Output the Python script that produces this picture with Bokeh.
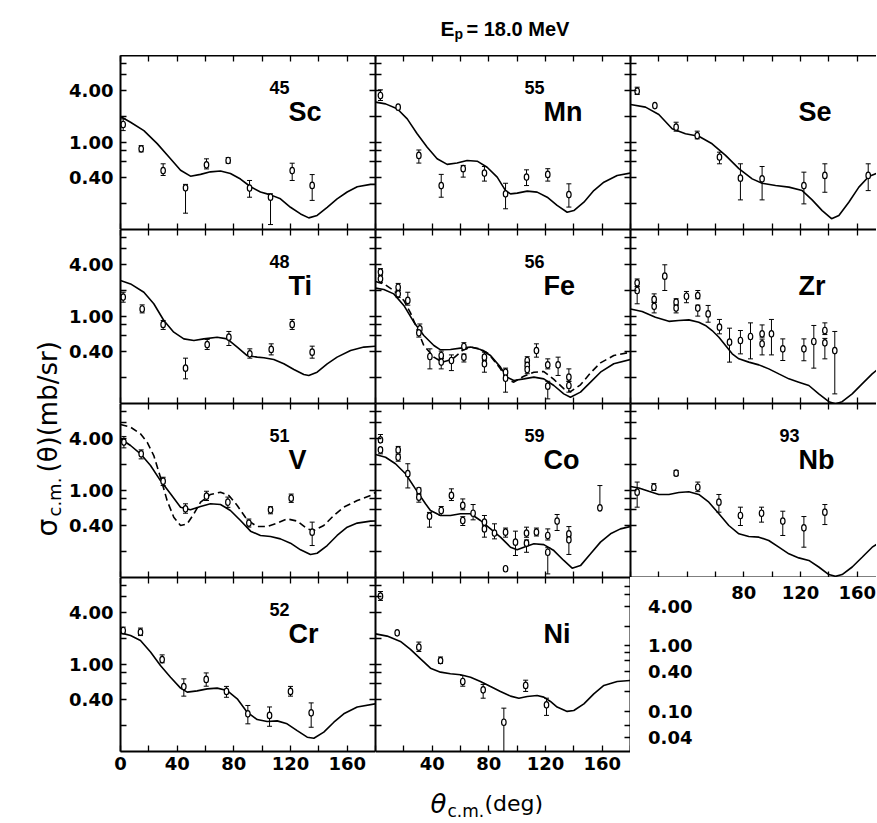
import math
from bokeh.plotting import figure
from bokeh.models import Range1d, LogAxis, LinearAxis, FixedTicker, NumeralTickFormatter, LogScale
from bokeh.layouts import column, row
from bokeh.core.properties import value
from bokeh.embed import file_html
from bokeh.resources import INLINE

# ---------------- data ----------------
# theta_cm in degrees, sigma in mb/sr
sc_cx = [0, 7.1, 16.5, 25.9, 35.3, 42.4, 49.4, 56.5, 63.5, 70.6, 77.6, 84.7, 91.8, 98.8, 105.9, 112.9, 120, 127.1, 132.9, 138.8, 145.9, 152.9, 160, 167.1, 176.5, 180]
sc_cy = [1.99, 1.71, 1.37, 0.97, 0.65, 0.48, 0.41, 0.43, 0.46, 0.47, 0.44, 0.38, 0.31, 0.27, 0.25, 0.225, 0.18, 0.151, 0.136, 0.145, 0.18, 0.225, 0.27, 0.31, 0.33, 0.33]
sc_x = [1.9, 14.6, 30.1, 45.9, 60.7, 76.0, 91.1, 105.9, 121.2, 135.3]
sc_y = [1.61, 0.845, 0.476, 0.301, 0.554, 0.621, 0.299, 0.235, 0.476, 0.321]
sc_lo = [1.37, 0.78, 0.418, 0.154, 0.497, 0.58, 0.235, 0.114, 0.366, 0.216]
sc_hi = [1.87, 0.92, 0.569, 0.33, 0.649, 0.67, 0.366, 0.257, 0.578, 0.428]

mn_cx = [0, 7.1, 15.3, 22.4, 29.4, 36.5, 43.5, 50.6, 57.6, 64.7, 71.8, 78.8, 85.9, 91.8, 95.3, 100, 107.1, 114.1, 121.2, 128.2, 135.3, 140, 147.1, 154.1, 161.2, 170.6, 180]
mn_cy = [2.91, 2.78, 2.44, 1.87, 1.26, 0.88, 0.65, 0.56, 0.58, 0.62, 0.61, 0.52, 0.40, 0.28, 0.257, 0.262, 0.276, 0.269, 0.235, 0.189, 0.158, 0.165, 0.206, 0.28, 0.35, 0.418, 0.445]
mn_x = [3.5, 16.0, 30.6, 46.4, 61.9, 76.9, 91.8, 106.6, 121.6, 136.5]
mn_y = [3.47, 2.55, 0.71, 0.32, 0.50, 0.445, 0.257, 0.40, 0.43, 0.252]
mn_lo = [3.04, None, 0.58, 0.235, 0.40, 0.36, 0.173, 0.32, 0.36, 0.181]
mn_hi = [4.03, None, 0.82, 0.43, 0.545, 0.53, 0.34, 0.485, 0.50, 0.335]

se_cx = [0, 10.6, 20, 29.4, 38.8, 48.2, 57.6, 67.1, 76.5, 85.9, 92.9, 102.4, 111.8, 121.2, 128.2, 135.3, 141.9, 147.1, 154.1, 161.2, 168.2, 174.4, 180]
se_cy = [2.74, 2.55, 2.10, 1.44, 1.26, 1.18, 0.966, 0.71, 0.50, 0.382, 0.34, 0.32, 0.307, 0.28, 0.219, 0.165, 0.133, 0.145, 0.206, 0.307, 0.406, 0.445, 0.47]
se_x = [4.7, 17.2, 32.2, 47.1, 62.8, 77.6, 92.9, 122.4, 137.2, 167.8]
se_y = [3.89, 2.66, 1.50, 1.20, 0.68, 0.389, 0.382, 0.32, 0.418, 0.418]
se_lo = [3.56, None, 1.35, 1.10, 0.569, 0.219, 0.219, 0.197, 0.268, 0.28]
se_hi = [4.32, None, 1.71, 1.35, 0.774, 0.569, 0.53, 0.456, 0.569, 0.569]

ti_cx = [0, 7.1, 16.5, 23.5, 30.6, 37.6, 44.7, 51.8, 58.8, 68.2, 75.3, 82.4, 89.4, 96.5, 101.2, 108.2, 115.3, 122.4, 129.4, 132.9, 138.8, 145.9, 152.9, 162.4, 171.8, 180]
ti_cy = [2.59, 2.37, 1.90, 1.40, 0.90, 0.66, 0.553, 0.53, 0.553, 0.578, 0.553, 0.445, 0.356, 0.341, 0.335, 0.32, 0.286, 0.246, 0.215, 0.21, 0.229, 0.286, 0.341, 0.406, 0.445, 0.456]
ti_x = [1.9, 15.3, 30.1, 45.9, 61.2, 76.5, 91.3, 106.4, 121.2, 135.3]
ti_y = [1.67, 1.22, 0.81, 0.255, 0.476, 0.578, 0.372, 0.418, 0.81, 0.389]
ti_lo = [1.46, 1.10, 0.71, 0.192, 0.418, 0.464, 0.332, 0.362, 0.71, 0.332]
ti_hi = [1.90, 1.36, 0.90, 0.332, 0.545, 0.673, 0.425, 0.485, 0.925, 0.456]

fe_cx = [0, 5.9, 12.9, 20, 27.1, 34.1, 41.2, 45.9, 52.9, 60, 67.1, 74.1, 81.2, 88.2, 92.9, 97.6, 104.7, 111.8, 118.8, 125.9, 132.9, 137.6, 144.7, 151.8, 158.8, 168.2, 180]
fe_cy = [2.12, 2.04, 1.82, 1.34, 0.86, 0.605, 0.464, 0.414, 0.418, 0.433, 0.445, 0.418, 0.356, 0.262, 0.201, 0.184, 0.192, 0.201, 0.192, 0.161, 0.129, 0.118, 0.135, 0.176, 0.229, 0.286, 0.321]
fe_dx = [0, 5.9, 12.9, 20, 24.7, 29.4, 34.1, 41.2, 47.1, 54.1, 61.2, 67.1, 74.1, 80, 88.2, 92.9, 97.6, 104.7, 111.8, 118.8, 125.9, 132.9, 137.6, 144.7, 151.8, 158.8, 168.2, 180]
fe_dy = [2.52, 2.37, 1.99, 1.53, 1.10, 0.72, 0.464, 0.341, 0.299, 0.321, 0.406, 0.445, 0.425, 0.372, 0.25, 0.189, 0.176, 0.206, 0.229, 0.233, 0.189, 0.148, 0.137, 0.164, 0.225, 0.293, 0.356, 0.389]
fe_x = [3.5, 3.5, 16.0, 16.0, 22.8, 31.3, 30.6, 38.4, 46.4, 46.4, 53.6, 62.4, 62.4, 76.9, 76.9, 91.8, 91.8, 107.1, 107.1, 107.1, 113.6, 121.6, 121.6, 128.9, 136.5, 136.5]
fe_y = [3.24, 2.71, 2.17, 1.82, 1.53, 0.72, 0.65, 0.347, 0.356, 0.299, 0.312, 0.452, 0.341, 0.341, 0.286, 0.229, 0.195, 0.312, 0.274, 0.246, 0.406, 0.278, 0.158, 0.278, 0.201, 0.161]
fe_lo = [3.0, 2.45, 2.0, 1.65, 1.35, 0.66, 0.58, 0.25, 0.33, 0.25, 0.239, 0.42, 0.30, 0.31, 0.229, 0.21, 0.135, 0.29, 0.25, 0.22, 0.341, 0.25, 0.113, 0.21, 0.18, 0.135]
fe_hi = [3.55, 2.95, 2.4, 2.0, 1.9, 0.82, 0.70, 0.425, 0.40, 0.33, 0.362, 0.50, 0.37, 0.389, 0.31, 0.255, 0.21, 0.345, 0.30, 0.27, 0.485, 0.326, 0.18, 0.341, 0.25, 0.18]

zr_cx = [0, 8.2, 17.6, 27.1, 34.1, 41.2, 48.2, 52.9, 57.6, 62.4, 67.1, 71.8, 76.5, 83.5, 90.6, 97.6, 104.7, 111.8, 118.8, 125.9, 132.9, 140, 144.7, 149.4, 156.5, 163.5, 170.6, 174.4, 180]
zr_cy = [1.22, 1.14, 0.98, 0.88, 0.90, 0.915, 0.86, 0.79, 0.69, 0.578, 0.464, 0.372, 0.326, 0.299, 0.278, 0.25, 0.219, 0.192, 0.176, 0.161, 0.129, 0.105, 0.099, 0.105, 0.129, 0.168, 0.219, 0.246, 0.29]
zr_x = [4.7, 4.7, 24.2, 16.7, 16.7, 32.2, 32.2, 39.5, 47.5, 47.5, 54.8, 62.8, 69.9, 77.6, 84.7, 92.9, 92.9, 99.5, 107.5, 122.4, 129.4, 137.2, 137.2, 144.2]
zr_y = [2.44, 1.99, 2.91, 1.57, 1.31, 1.46, 1.25, 1.71, 1.74, 1.25, 1.07, 0.753, 0.507, 0.53, 0.589, 0.632, 0.485, 0.632, 0.425, 0.425, 0.516, 0.69, 0.498, 0.406]
zr_lo = [2.2, 1.40, 1.99, 1.45, 1.10, 1.35, 1.10, 1.44, 1.6, 1.01, 0.86, 0.632, 0.299, 0.372, 0.326, 0.58, 0.362, 0.362, 0.312, 0.31, 0.255, 0.62, 0.326, 0.129]
zr_hi = [2.7, 2.2, 3.93, 1.82, 1.45, 1.6, 1.35, 1.94, 1.99, 1.35, 1.34, 0.925, 0.734, 0.69, 0.845, 0.80, 0.55, 0.925, 0.553, 0.553, 0.789, 0.845, 0.56, 0.673]

v_cx = [0, 7.1, 14.1, 21.2, 28.2, 35.3, 42.4, 49.4, 56.5, 63.5, 70.6, 77.6, 84.7, 91.8, 98.8, 105.9, 112.9, 120, 127.1, 134.1, 138.8, 145.9, 152.9, 160, 167.1, 176.5, 180]
v_cy = [3.93, 3.29, 2.64, 1.94, 1.30, 0.916, 0.643, 0.60, 0.655, 0.703, 0.69, 0.589, 0.452, 0.341, 0.304, 0.296, 0.278, 0.248, 0.208, 0.184, 0.19, 0.233, 0.304, 0.379, 0.422, 0.445, 0.447]
v_dx = [0, 7.1, 14.1, 18.8, 23.5, 28.2, 32.9, 37.6, 42.4, 47.1, 51.8, 56.5, 63.5, 70.6, 76.5, 82.4, 89.4, 96.5, 103.5, 110.6, 117.6, 124.7, 131.8, 136.5, 143.5, 150.6, 157.6, 167.1, 176.5, 180]
v_dy = [5.74, 5.35, 4.48, 3.59, 2.52, 1.42, 0.767, 0.493, 0.396, 0.414, 0.54, 0.734, 0.90, 0.957, 0.877, 0.673, 0.46, 0.385, 0.385, 0.422, 0.472, 0.445, 0.362, 0.347, 0.396, 0.517, 0.643, 0.767, 0.877, 0.95]
v_x = [2.4, 14.6, 30.1, 45.9, 60.7, 75.8, 90.6, 105.9, 120.5, 135.3]
v_y = [3.60, 2.64, 1.28, 0.615, 0.861, 0.734, 0.422, 0.60, 0.817, 0.332]
v_lo = [3.09, 2.31, 1.14, 0.548, 0.767, 0.64, 0.38, 0.54, 0.73, 0.233]
v_hi = [4.18, 2.93, 1.42, 0.703, 0.98, 0.84, 0.47, 0.65, 0.91, 0.433]

co_cx = [0, 7.1, 14.1, 21.2, 28.2, 35.3, 38.8, 45.9, 52.9, 60, 67.1, 74.1, 81.2, 88.2, 95.3, 100, 104.7, 111.8, 118.8, 125.9, 132.9, 138.8, 144.7, 151.8, 158.8, 165.9, 172.9, 180]
co_cy = [2.59, 2.41, 2.03, 1.56, 1.045, 0.703, 0.589, 0.516, 0.516, 0.54, 0.54, 0.452, 0.362, 0.291, 0.223, 0.208, 0.223, 0.244, 0.239, 0.204, 0.157, 0.128, 0.137, 0.187, 0.255, 0.318, 0.362, 0.385]
co_x = [3.5, 3.5, 16.0, 16.0, 22.8, 30.6, 30.6, 38.1, 46.4, 53.6, 61.6, 61.6, 68.9, 76.9, 76.9, 84.0, 91.8, 91.8, 98.8, 106.6, 106.6, 113.6, 121.6, 121.6, 128.2, 136.5, 136.5, 158.4]
co_y = [3.82, 2.93, 2.93, 2.41, 1.56, 1.0, 0.838, 0.507, 0.589, 0.877, 0.673, 0.452, 0.548, 0.433, 0.362, 0.324, 0.332, 0.126, 0.255, 0.324, 0.248, 0.332, 0.304, 0.195, 0.445, 0.318, 0.271, 0.632]
co_lo = [3.59, 2.64, 2.7, 2.17, 1.07, 0.92, 0.734, 0.379, 0.516, 0.767, 0.6, 0.396, 0.46, 0.39, 0.291, 0.278, 0.291, None, 0.179, 0.29, 0.195, 0.30, 0.27, 0.11, 0.347, 0.29, 0.184, 0.632]
co_hi = [4.40, 3.1, 3.21, 2.6, 2.03, 1.07, 0.9, 0.56, 0.655, 1.045, 0.80, 0.50, 0.69, 0.516, 0.40, 0.414, 0.37, None, 0.341, 0.379, 0.27, 0.37, 0.362, 0.22, 0.53, 0.385, 0.30, 1.14]

nb_cx = [0, 5.9, 12.9, 20, 27.1, 34.1, 41.2, 48.2, 55.3, 62.4, 69.4, 76.5, 83.5, 90.6, 97.6, 104.7, 111.8, 118.8, 125.9, 132.9, 140, 144.7, 149.4, 156.5, 163.5, 170.6, 174.4, 180]
nb_cy = [1.11, 1.07, 0.98, 0.90, 0.90, 0.948, 0.966, 0.90, 0.734, 0.54, 0.396, 0.318, 0.296, 0.291, 0.266, 0.223, 0.187, 0.168, 0.157, 0.132, 0.108, 0.103, 0.108, 0.132, 0.171, 0.223, 0.244, 0.29]
nb_x = [4.7, 16.5, 32.2, 47.5, 62.4, 77.6, 92.5, 107.5, 122.4, 137.2]
nb_y = [0.957, 1.09, 1.58, 1.09, 0.734, 0.516, 0.548, 0.445, 0.372, 0.563]
nb_lo = [0.643, 1.0, 1.48, 0.97, 0.563, 0.396, 0.433, 0.304, 0.223, 0.406]
nb_hi = [1.25, 1.2, 1.7, 1.25, 0.90, 0.643, 0.643, 0.578, 0.502, 0.69]

cr_cx = [0, 7.1, 14.1, 21.2, 28.2, 35.3, 42.4, 47.1, 54.1, 61.2, 68.2, 75.3, 82.4, 89.4, 96.5, 103.5, 110.6, 117.6, 124.7, 131.8, 136.5, 143.5, 150.6, 157.6, 167.1, 180]
cr_cy = [2.31, 2.15, 1.89, 1.39, 0.975, 0.714, 0.535, 0.481, 0.498, 0.525, 0.535, 0.502, 0.403, 0.283, 0.233, 0.221, 0.225, 0.208, 0.174, 0.146, 0.142, 0.167, 0.217, 0.271, 0.324, 0.353]
cr_x = [1.9, 14.1, 29.4, 44.7, 60.5, 74.8, 89.9, 105.2, 120, 134.6]
cr_y = [2.46, 2.35, 1.14, 0.558, 0.673, 0.49, 0.271, 0.26, 0.49, 0.278]
cr_lo = [2.25, 2.15, 1.045, 0.433, 0.563, 0.42, 0.208, 0.195, 0.433, 0.19]
cr_hi = [2.69, 2.62, 1.29, 0.684, 0.80, 0.56, 0.338, 0.325, 0.56, 0.362]

ni_cx = [0, 8.2, 17.6, 24.7, 31.8, 38.8, 45.9, 52.9, 60, 67.1, 74.1, 81.2, 88.2, 95.3, 101.2, 107.1, 114.1, 118.8, 123.5, 128.2, 135.3, 140, 147.1, 154.1, 161.2, 170.6, 180]
ni_cy = [2.25, 2.12, 1.84, 1.49, 1.16, 0.908, 0.817, 0.782, 0.761, 0.714, 0.638, 0.558, 0.49, 0.433, 0.41, 0.429, 0.44, 0.422, 0.376, 0.324, 0.289, 0.296, 0.353, 0.46, 0.574, 0.638, 0.655]
ni_x = [3.5, 15.3, 30.6, 45.9, 61.6, 76.0, 90.6, 106.0, 120.7]
ni_y = [6.1, 2.31, 1.58, 1.11, 0.638, 0.512, 0.217, 0.574, 0.344]
ni_lo = [5.45, None, 1.41, 1.03, 0.563, 0.41, 0.098, 0.49, 0.26]
ni_hi = [6.9, None, 1.81, 1.22, 0.748, 0.59, 0.315, 0.66, 0.41]

# tick values / labels
y_major = [0.4, 1, 4]
y_minor = [0.2, 0.6, 0.8, 2, 6, 8]
ni_r_major = [0.04, 0.1, 0.4, 1, 4]
ni_r_minor = [0.06, 0.2, 0.6, 0.8, 2, 6, 8]
x_major = [0, 40, 80, 120, 160]
x_minor = [20, 60, 100, 140, 180]

# ---------------- layout constants ----------------
YMIN, YMAX = 0.1, 10.0
NIR_MIN, NIR_MAX = 0.0243, 11.06
FW, FW3, FH = 255, 246, 174
PPD = FW / 180.0
LB = 58
YLAB_W = 62
TITLE_H = 55
BB = 27
XT_H = 42
F_LEFT, F_TOP = 70, 22
NUMFONT = "DejaVu Sans"
CONDFONT = "'Liberation Sans Narrow', 'Liberation Sans', sans-serif"
TOTAL_W = YLAB_W + LB + FW + FW + FW3


def style_axis(ax, ticks, minor, labels=False, fmt=None, standoff=0):
    ax.ticker = FixedTicker(ticks=ticks, minor_ticks=minor)
    ax.axis_line_color = "black"
    ax.axis_line_width = 2
    ax.major_tick_in = 6
    ax.major_tick_out = 0
    ax.minor_tick_in = 6
    ax.minor_tick_out = 0
    ax.major_tick_line_width = 1.3
    ax.minor_tick_line_width = 1.3
    ax.major_tick_line_color = "black"
    ax.minor_tick_line_color = "black"
    if labels:
        ax.major_label_text_font = NUMFONT
        ax.major_label_text_font_style = "bold"
        ax.major_label_text_font_size = "18px"
        ax.major_label_text_color = "black"
        ax.major_label_standoff = standoff
        if fmt is not None:
            ax.formatter = fmt
    else:
        ax.major_label_text_font_size = "0px"
        ax.major_label_text_color = None
        ax.major_label_standoff = 0


def ypos(dy):
    # data value at dy pixels below the frame top
    return 10 ** (math.log10(YMAX) - dy / FH * math.log10(YMAX / YMIN))


def panel(col, rw, mass, elem, curves, xs, ys, lo, hi):
    fw = FW3 if col == 2 else FW
    p = figure(frame_width=fw, frame_height=FH,
               x_range=Range1d(0, fw / PPD), y_range=Range1d(YMIN, YMAX),
               y_axis_type="log", output_backend="svg", toolbar_location=None,
               min_border_left=LB if col == 0 else 0, min_border_right=0,
               min_border_top=0, min_border_bottom=BB if rw == 3 else 0,
               outline_line_color=None, background_fill_color="white",
               border_fill_color="white", frame_align=False)
    p.xgrid.visible = False
    p.ygrid.visible = False
    if col == 0:
        style_axis(p.yaxis[0], y_major, y_minor, True, NumeralTickFormatter(format="0.00"), 7)
    else:
        style_axis(p.yaxis[0], y_major, y_minor)
    if rw == 3 and col == 0:
        style_axis(p.xaxis[0], x_major, x_minor, True, None, 5)
    elif rw == 3 and col == 1:
        style_axis(p.xaxis[0], x_major[1:], [0] + x_minor, True, None, 5)
    else:
        style_axis(p.xaxis[0], x_major, x_minor)
    top = LinearAxis()
    style_axis(top, x_major, x_minor)
    p.add_layout(top, "above")
    if col < 2:
        if rw == 3 and col == 1:
            p.extra_y_ranges = {"nir": Range1d(NIR_MIN, NIR_MAX)}
            p.extra_y_scales = {"nir": LogScale()}
            ra = LogAxis(y_range_name="nir")
            style_axis(ra, ni_r_major, ni_r_minor)
        else:
            ra = LogAxis()
            style_axis(ra, y_major, y_minor)
        p.add_layout(ra, "right")
    for cx, cy, dash in curves:
        p.line(cx, cy, line_color="black", line_width=1.6, line_dash=dash)
    bx = [x for x, a, b in zip(xs, lo, hi) if a is not None]
    bl = [a for x, a, b in zip(xs, lo, hi) if a is not None]
    bh = [b for x, a, b in zip(xs, lo, hi) if a is not None]
    p.segment(x0=bx, y0=bl, x1=bx, y1=bh, line_color="black", line_width=1)
    p.scatter(bx, bl, marker="dash", size=5, line_color="black", line_width=1)
    p.scatter(bx, bh, marker="dash", size=5, line_color="black", line_width=1)
    p.ellipse(x=xs, y=ys, width=4.5, height=6.5, width_units="screen", height_units="screen",
              fill_color="white", line_color="black", line_width=1.2)
    if mass:
        p.text(x=[149 / PPD], y=[ypos(32)], text=[mass], text_font=value(CONDFONT),
               text_font_style="bold", text_font_size="18px", text_color="black",
               text_align="left", text_baseline="alphabetic")
    p.text(x=[168 / PPD], y=[ypos(56)], text=[elem], text_font=value(CONDFONT),
           text_font_style="bold", text_font_size="27px", text_color="black",
           text_align="left", text_baseline="alphabetic")
    return p


sc = panel(0, 0, "45", "Sc", [(sc_cx, sc_cy, "solid")], sc_x, sc_y, sc_lo, sc_hi)
mn = panel(1, 0, "55", "Mn", [(mn_cx, mn_cy, "solid")], mn_x, mn_y, mn_lo, mn_hi)
se = panel(2, 0, "", "Se", [(se_cx, se_cy, "solid")], se_x, se_y, se_lo, se_hi)
ti = panel(0, 1, "48", "Ti", [(ti_cx, ti_cy, "solid")], ti_x, ti_y, ti_lo, ti_hi)
fe = panel(1, 1, "56", "Fe", [(fe_cx, fe_cy, "solid"), (fe_dx, fe_dy, "7 4")], fe_x, fe_y, fe_lo, fe_hi)
zr = panel(2, 1, "", "Zr", [(zr_cx, zr_cy, "solid")], zr_x, zr_y, zr_lo, zr_hi)
vv = panel(0, 2, "51", "V", [(v_cx, v_cy, "solid"), (v_dx, v_dy, "7 4")], v_x, v_y, v_lo, v_hi)
co = panel(1, 2, "59", "Co", [(co_cx, co_cy, "solid")], co_x, co_y, co_lo, co_hi)
nb = panel(2, 2, "93", "Nb", [(nb_cx, nb_cy, "solid")], nb_x, nb_y, nb_lo, nb_hi)
cr = panel(0, 3, "52", "Cr", [(cr_cx, cr_cy, "solid")], cr_x, cr_y, cr_lo, cr_hi)
ni = panel(1, 3, "", "Ni", [(ni_cx, ni_cy, "solid")], ni_x, ni_y, ni_lo, ni_hi)

# cell below Nb: Nb's x labels and Ni's right-hand scale labels
f_top_val = 10 ** (math.log10(NIR_MIN) + (FH - F_TOP) / FH * math.log10(NIR_MAX / NIR_MIN))
fx = figure(frame_width=FW3 - F_LEFT, frame_height=FH - F_TOP,
            x_range=Range1d(F_LEFT / PPD, FW3 / PPD), y_range=Range1d(NIR_MIN, f_top_val),
            y_axis_type="log", x_axis_location="above", y_axis_location="left",
            min_border_left=F_LEFT, min_border_top=F_TOP, min_border_right=0, min_border_bottom=0,
            outline_line_color=None, background_fill_color="white", border_fill_color="white",
            output_backend="svg", toolbar_location=None, frame_align=False)
fx.xgrid.visible = False
fx.ygrid.visible = False
for ax, tk, so, fmt in ((fx.yaxis[0], ni_r_major, 8, NumeralTickFormatter(format="0.00")),
                        (fx.xaxis[0], [80, 120, 160], 1, None)):
    ax.ticker = FixedTicker(ticks=tk, minor_ticks=[])
    ax.axis_line_color = None
    ax.major_tick_line_color = None
    ax.minor_tick_line_color = None
    ax.major_tick_out = 0
    ax.major_tick_in = 0
    ax.major_label_text_font = NUMFONT
    ax.major_label_text_font_style = "bold"
    ax.major_label_text_font_size = "18px"
    ax.major_label_text_color = "black"
    ax.major_label_standoff = so
    if fmt is not None:
        ax.formatter = fmt


def blank(w, h):
    p = figure(width=w, height=h, x_range=Range1d(0, w), y_range=Range1d(0, h),
               x_axis_location=None, y_axis_location=None, min_border=0,
               outline_line_color=None, output_backend="svg", toolbar_location=None,
               background_fill_color="white", border_fill_color="white", frame_align=False)
    p.xgrid.visible = False
    p.ygrid.visible = False
    return p


def put(p, x, y, txt, size, font, style="normal", angle=0.0):
    p.text(x=[x], y=[y], text=[txt], angle=angle, text_font=value(font), text_font_style=style,
           text_font_size=size, text_color="black", text_align="left", text_baseline="alphabetic")


# title strip (page y 0..55)
tt = blank(TOTAL_W, TITLE_H)
put(tt, 440, TITLE_H - 28, "E", "21px", CONDFONT, "bold")
put(tt, 454, TITLE_H - 33, "p", "14px", CONDFONT, "bold")
put(tt, 466, TITLE_H - 28, "= 18.0 MeV", "20px", CONDFONT, "bold")

# y label strip (page y 55..778)
YL_H = 4 * FH + BB
yl = blank(YLAB_W, YL_H)
put(yl, 47, 778 - 536, "σ", "28px", "DejaVu Sans", "normal", math.pi / 2)
put(yl, 54, 778 - 516, "c.m.", "18px", "DejaVu Sans", "normal", math.pi / 2)
put(yl, 47, 778 - 472, "(θ)(mb/sr)", "26px", "DejaVu Sans", "normal", math.pi / 2)

# x label strip (page y 778..820)
xt = blank(TOTAL_W, XT_H)
put(xt, 430, 820 - 803, "θ", "26px", "DejaVu Sans", "italic")
put(xt, 447, 820 - 810, "c.m.", "17px", "DejaVu Sans", "normal")
put(xt, 484, 820 - 803, "(deg)", "22px", "DejaVu Sans", "normal")

c1 = column(sc, ti, vv, cr, spacing=0)
c2 = column(mn, fe, co, ni, spacing=0)
c3 = column(se, zr, nb, fx, spacing=0)
layout = column(tt, row(yl, c1, c2, c3, spacing=0), xt, spacing=0)

open("out.html", "w").write(file_html(layout, INLINE, title="Ep = 18.0 MeV"))
